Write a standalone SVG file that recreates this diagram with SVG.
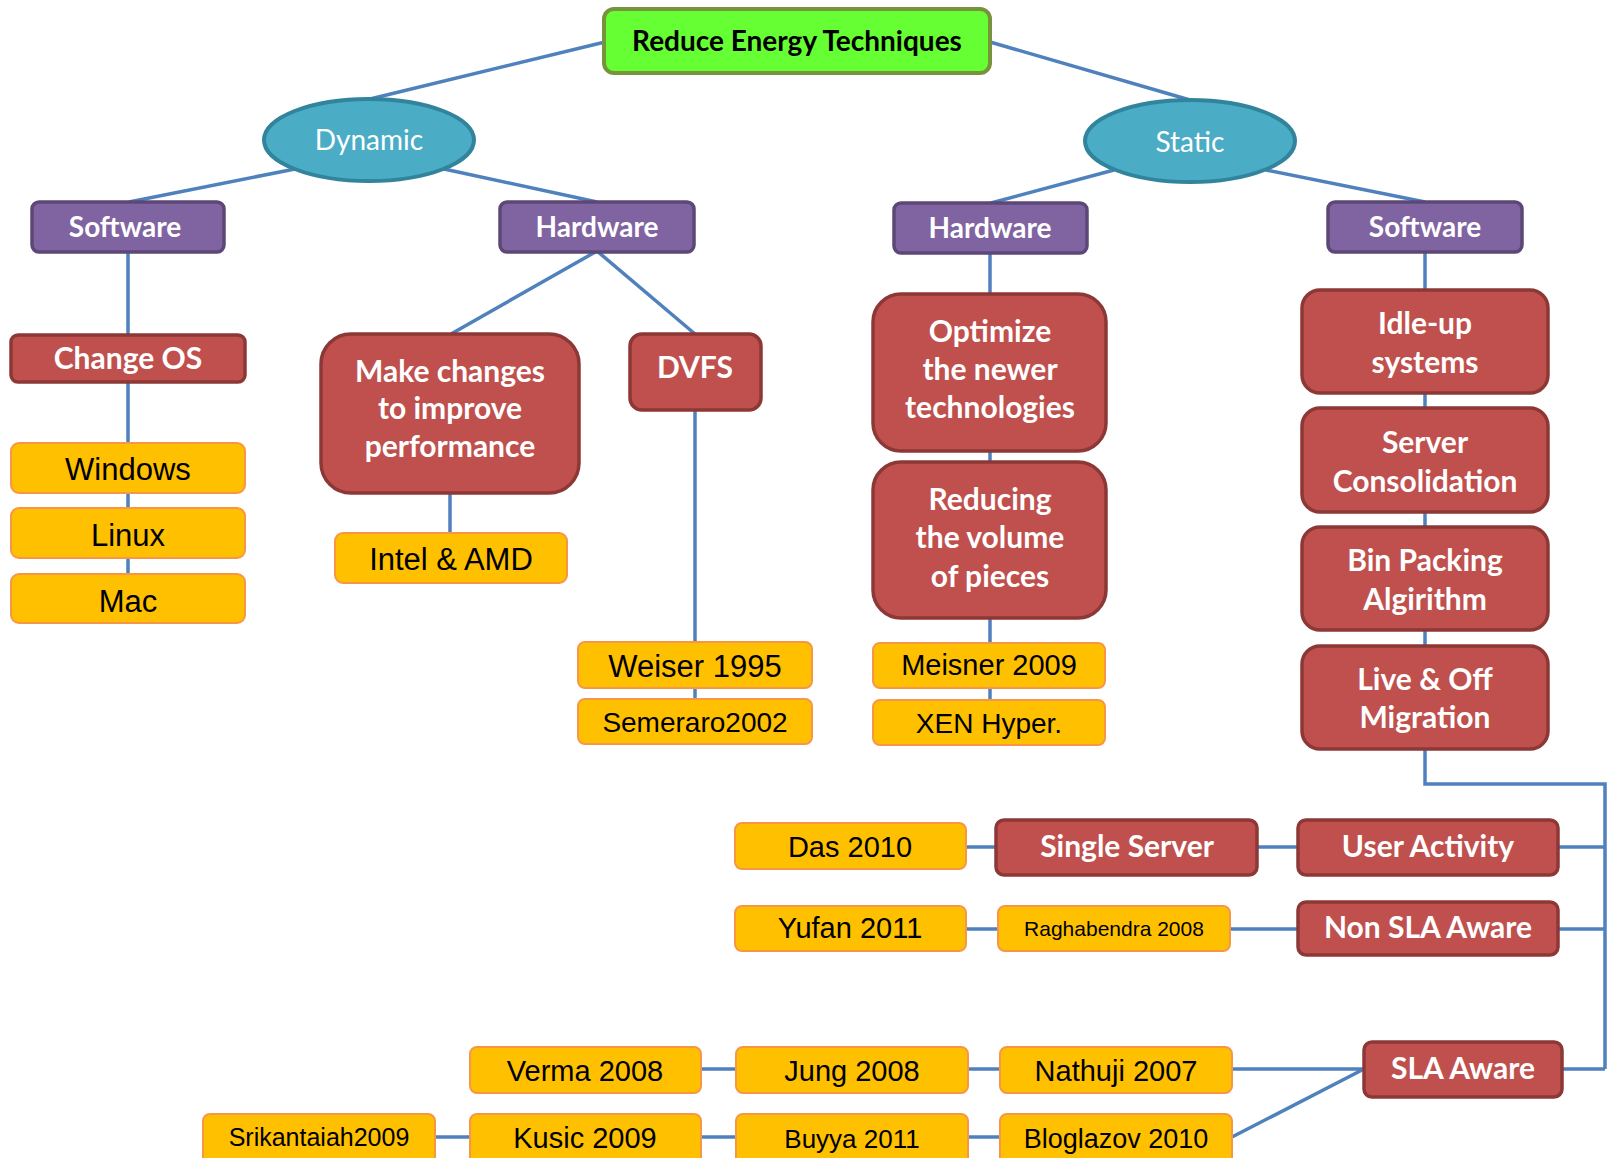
<svg xmlns="http://www.w3.org/2000/svg" width="1608" height="1158" viewBox="0 0 1608 1158">
<style>
.c{stroke:#4F81BD;stroke-width:3.5;fill:none}
.red{fill:#C0504D;stroke:#8C3836;stroke-width:3.5}
.pur{fill:#8064A2;stroke:#5C4776;stroke-width:3.5}
.yel{fill:#FFC000;stroke:#F79646;stroke-width:2}
.ell{fill:#4BACC6;stroke:#31849B;stroke-width:4}
.root{fill:#66FF33;stroke:#77933C;stroke-width:4}
.tw{font-family:Lato,'Open Sans',sans-serif;font-weight:700;fill:#fff;text-anchor:middle;font-size:30px}
.tp{font-family:Lato,'Open Sans',sans-serif;font-weight:700;fill:#fff;text-anchor:middle;font-size:28px}
.te{font-family:Lato,'Open Sans',sans-serif;font-weight:400;fill:#fff;text-anchor:middle;font-size:28px}
.ty{font-family:'Liberation Sans',Arial,sans-serif;fill:#000;text-anchor:middle;font-size:29px}
.s31{font-size:31px}.s28{font-size:28px}.s21{font-size:21px}.s25{font-size:25px}.s26{font-size:26px}.s27{font-size:27px}
</style>
<rect width="1608" height="1158" fill="#fff"/>
<g id="connectors" class="c">
<path d="M605,42 L370,99"/>
<path d="M990,42 L1190,100"/>
<path d="M295,169 L129,202"/>
<path d="M444,169 L597,202"/>
<path d="M1114,170 L991,203"/>
<path d="M1266,170 L1425,202"/>
<path d="M128,252 V335"/>
<path d="M128,382 V443"/>
<path d="M128,493 V508"/>
<path d="M128,558 V574"/>
<path d="M597,251 L451,334"/>
<path d="M597,251 L695,334"/>
<path d="M450,493 V533"/>
<path d="M695,410 V642"/>
<path d="M695,688 V699"/>
<path d="M990,253 V294"/>
<path d="M990,451 V462"/>
<path d="M990,618 V643"/>
<path d="M990,688 V700"/>
<path d="M1425,252 V290"/>
<path d="M1425,393 V408"/>
<path d="M1425,512 V527"/>
<path d="M1425,630 V646"/>
<path d="M1425,749 V784 H1605 V1069"/>
<path d="M966,847 H996"/>
<path d="M1257,847 H1298"/>
<path d="M1558,847 H1605"/>
<path d="M966,929 H998"/>
<path d="M1230,929 H1298"/>
<path d="M1558,929 H1605"/>
<path d="M1562,1069 H1605"/>
<path d="M701,1069 H736"/>
<path d="M968,1069 H1000"/>
<path d="M1232,1069 H1364"/>
<path d="M435,1137 H470"/>
<path d="M701,1137 H736"/>
<path d="M968,1137 H1000"/>
<path d="M1232,1137 L1364,1069"/>
</g>
<g id="root"><rect class="root" x="604" y="9" width="386" height="64" rx="10"/><text x="797" y="51" font-family="Lato,'Open Sans',sans-serif" font-weight="700" font-size="28" text-anchor="middle" fill="#000">Reduce Energy Techniques</text></g>
<g id="dynamic"><ellipse class="ell" cx="369" cy="140" rx="105" ry="41"/><text class="te" x="369" y="150">Dynamic</text></g>
<g id="static"><ellipse class="ell" cx="1190" cy="141" rx="105" ry="41"/><text class="te" x="1190" y="152">Static</text></g>
<g id="dyn-software"><rect class="pur" x="32" y="202" width="192" height="50" rx="7"/><text class="tp" x="125" y="237">Software</text></g>
<g id="dyn-hardware"><rect class="pur" x="500" y="202" width="194" height="50" rx="7"/><text class="tp" x="597" y="237">Hardware</text></g>
<g id="sta-hardware"><rect class="pur" x="894" y="203" width="193" height="50" rx="7"/><text class="tp" x="990" y="238">Hardware</text></g>
<g id="sta-software"><rect class="pur" x="1328" y="202" width="194" height="50" rx="7"/><text class="tp" x="1425" y="237">Software</text></g>
<g id="change-os"><rect class="red" x="11" y="335" width="234" height="47" rx="7"/><text class="tw" x="128" y="369">Change OS</text></g>
<g id="windows"><rect class="yel" x="11" y="443" width="234" height="50" rx="8"/><text class="ty s31" x="128" y="480">Windows</text></g>
<g id="linux"><rect class="yel" x="11" y="508" width="234" height="50" rx="8"/><text class="ty s31" x="128" y="546">Linux</text></g>
<g id="mac"><rect class="yel" x="11" y="574" width="234" height="49" rx="8"/><text class="ty s31" x="128" y="612">Mac</text></g>
<g id="make-changes"><rect class="red" x="321" y="334" width="258" height="159" rx="30"/><text class="tw" x="450" y="382">Make changes</text><text class="tw" x="450" y="419">to improve</text><text class="tw" x="450" y="457">performance</text></g>
<g id="dvfs"><rect class="red" x="630" y="334" width="131" height="76" rx="12"/><text class="tw" x="695" y="378">DVFS</text></g>
<g id="intel-amd"><rect class="yel" x="335" y="533" width="232" height="50" rx="8"/><text class="ty s31" x="451" y="570">Intel &amp; AMD</text></g>
<g id="weiser"><rect class="yel" x="578" y="642" width="234" height="46" rx="7"/><text class="ty s31" x="695" y="677">Weiser 1995</text></g>
<g id="semeraro"><rect class="yel" x="578" y="699" width="234" height="45" rx="7"/><text class="ty s28" x="695" y="732">Semeraro2002</text></g>
<g id="optimize"><rect class="red" x="873" y="294" width="233" height="157" rx="28"/><text class="tw" x="990" y="342">Optimize</text><text class="tw" x="990" y="380">the newer</text><text class="tw" x="990" y="418">technologies</text></g>
<g id="reducing"><rect class="red" x="873" y="462" width="233" height="156" rx="28"/><text class="tw" x="990" y="510">Reducing</text><text class="tw" x="990" y="548">the volume</text><text class="tw" x="990" y="587">of pieces</text></g>
<g id="meisner"><rect class="yel" x="873" y="643" width="232" height="45" rx="7"/><text class="ty" x="989" y="675">Meisner 2009</text></g>
<g id="xen"><rect class="yel" x="873" y="700" width="232" height="45" rx="7"/><text class="ty s28" x="989" y="733">XEN Hyper.</text></g>
<g id="idle-up"><rect class="red" x="1302" y="290" width="246" height="103" rx="18"/><text class="tw" x="1425" y="334">Idle-up</text><text class="tw" x="1425" y="373">systems</text></g>
<g id="server-consolidation"><rect class="red" x="1302" y="408" width="246" height="104" rx="18"/><text class="tw" x="1425" y="453">Server</text><text class="tw" x="1425" y="492">Consolidation</text></g>
<g id="bin-packing"><rect class="red" x="1302" y="527" width="246" height="103" rx="18"/><text class="tw" x="1425" y="571">Bin Packing</text><text class="tw" x="1425" y="610">Algirithm</text></g>
<g id="live-off"><rect class="red" x="1302" y="646" width="246" height="103" rx="18"/><text class="tw" x="1425" y="690">Live &amp; Off</text><text class="tw" x="1425" y="728">Migration</text></g>
<g id="das"><rect class="yel" x="735" y="823" width="231" height="46" rx="7"/><text class="ty" x="850" y="857">Das 2010</text></g>
<g id="single-server"><rect class="red" x="996" y="820" width="261" height="55" rx="8"/><text class="tw" x="1127" y="857">Single Server</text></g>
<g id="user-activity"><rect class="red" x="1298" y="820" width="260" height="55" rx="8"/><text class="tw" x="1428" y="857">User Activity</text></g>
<g id="yufan"><rect class="yel" x="735" y="906" width="231" height="45" rx="7"/><text class="ty" x="850" y="938">Yufan 2011</text></g>
<g id="raghabendra"><rect class="yel" x="998" y="906" width="232" height="45" rx="7"/><text class="ty s21" x="1114" y="936">Raghabendra 2008</text></g>
<g id="non-sla"><rect class="red" x="1298" y="902" width="260" height="53" rx="8"/><text class="tw" x="1428" y="938">Non SLA Aware</text></g>
<g id="sla-aware"><rect class="red" x="1364" y="1042" width="198" height="55" rx="8"/><text class="tw" x="1463" y="1079">SLA Aware</text></g>
<g id="verma"><rect class="yel" x="470" y="1047" width="231" height="46" rx="7"/><text class="ty" x="585" y="1081">Verma 2008</text></g>
<g id="jung"><rect class="yel" x="736" y="1047" width="232" height="46" rx="7"/><text class="ty" x="852" y="1081">Jung 2008</text></g>
<g id="nathuji"><rect class="yel" x="1000" y="1047" width="232" height="46" rx="7"/><text class="ty" x="1116" y="1081">Nathuji 2007</text></g>
<g id="srikantaiah"><rect class="yel" x="203" y="1114" width="232" height="50" rx="7"/><text class="ty s25" x="319" y="1146">Srikantaiah2009</text></g>
<g id="kusic"><rect class="yel" x="470" y="1114" width="231" height="50" rx="7"/><text class="ty" x="585" y="1148">Kusic 2009</text></g>
<g id="buyya"><rect class="yel" x="736" y="1114" width="232" height="50" rx="7"/><text class="ty s26" x="852" y="1148">Buyya 2011</text></g>
<g id="bloglazov"><rect class="yel" x="1000" y="1114" width="232" height="50" rx="7"/><text class="ty s27" x="1116" y="1148">Bloglazov 2010</text></g>
</svg>
